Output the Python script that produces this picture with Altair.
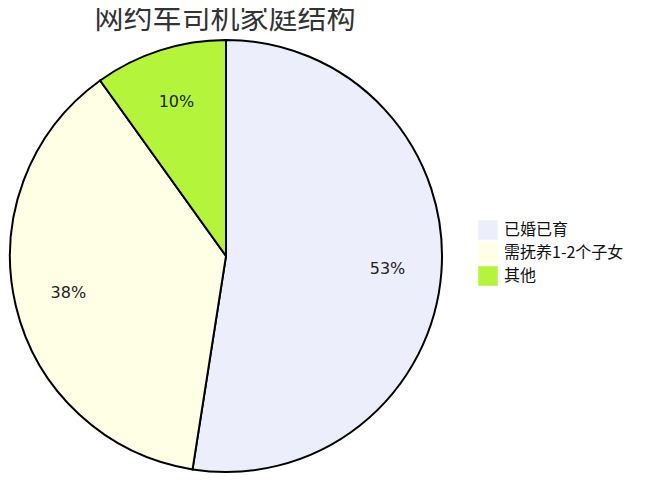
import altair as alt
import pandas as pd

categories = ["已婚已育", "需抚养1-2个子女", "其他"]
values = [53, 38, 10]
labels = ["53%", "38%", "10%"]
colors = ["#ECEEFC", "#FFFFE6", "#B4F53C"]
title_text = "网约车司机家庭结构"

df = pd.DataFrame({"cat": categories, "val": values, "lab": labels,
                   "order": list(range(len(categories)))})

CX, CY, R = 218, 248, 216

color = alt.Color("cat:N", sort=categories,
                  scale=alt.Scale(domain=categories, range=colors),
                  legend=alt.Legend(title=None, orient="none", legendX=470, legendY=212,
                                    symbolType="square", symbolSize=380,
                                    symbolStrokeWidth=0, labelFontSize=16,
                                    labelFont="Noto Sans CJK SC", labelColor="#111",
                                    rowPadding=3, labelOffset=6))

base = alt.Chart(df).encode(
    theta=alt.Theta("val:Q", stack=True),
    order=alt.Order("order:Q"),
)

pie = base.mark_arc(outerRadius=R, stroke="black", strokeWidth=2).encode(
    color=color, x=alt.value(CX), y=alt.value(CY))

text = base.mark_text(radius=162, fontSize=16, font="DejaVu Sans", color="#222").encode(
    text="lab:N", x=alt.value(CX), y=alt.value(CY))

title = alt.Chart(pd.DataFrame({"t": [title_text]})).mark_text(
    fontSize=29, font="Noto Sans CJK SC", color="#333", baseline="alphabetic", align="center"
).encode(text="t:N", x=alt.value(217), y=alt.value(21))

chart = alt.layer(pie, text, title).properties(
    width=644, height=469, autosize=alt.AutoSizeParams(type="none"), padding=0
).configure_view(stroke=None)

chart.save("out.html", embed_options={"renderer": "svg", "actions": False})
